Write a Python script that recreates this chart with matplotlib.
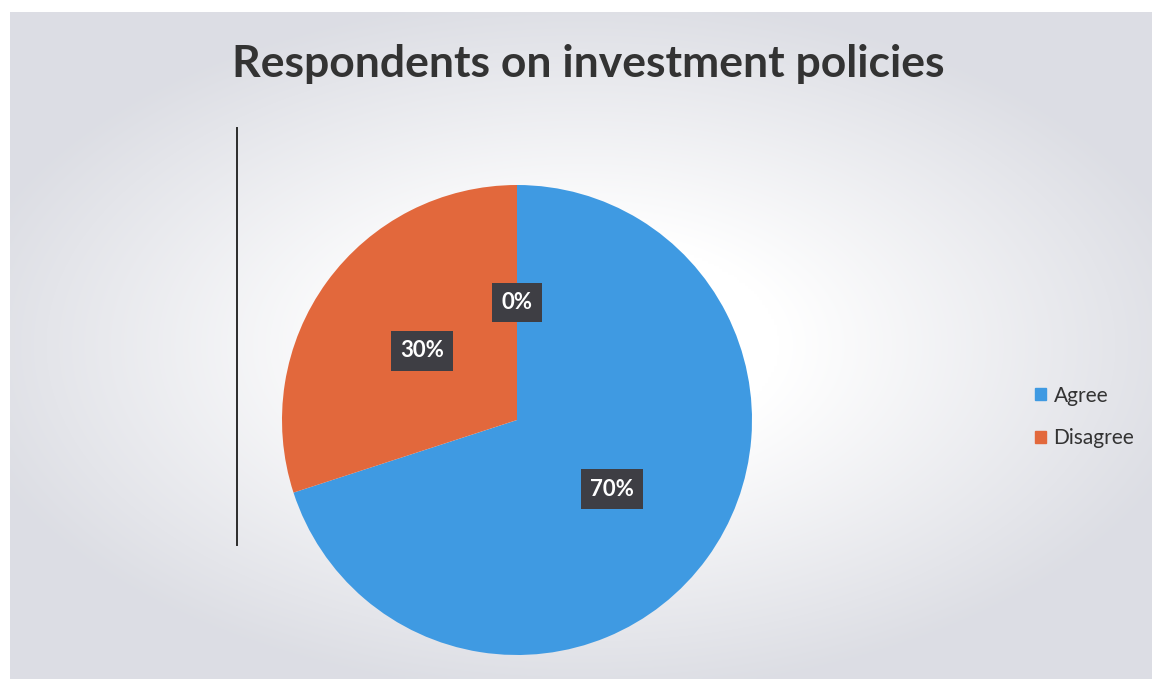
import matplotlib.pyplot as plt
import matplotlib.patches as mpatches
import numpy as np

# survey answers
categories = ["Agree", "Disagree", "Neutral"]
shares = [70, 30, 0]
colors = ["#3f9ae2", "#e2683c", "#a5a5a5"]
legend_items = ["Agree", "Disagree"]

title = "Respondents on investment policies"

plt.rcParams['font.family'] = ['Lato', 'DejaVu Sans']

fig = plt.figure(figsize=(11.52, 6.79), dpi=100)

# paper-like backdrop: light grey edges fading to white in the middle
bg = fig.add_axes([0, 0, 1, 1], zorder=-10)
gx, gy = np.meshgrid(np.linspace(-1, 1, 400), np.linspace(-1, 1, 240))
r = np.sqrt((gx / 1.0) ** 2 + (gy / 0.95) ** 2)
glow = np.clip((r - 0.35) / 0.75, 0, 1)
edge = np.array([0.865, 0.87, 0.895])
img = 1 - glow[..., None] * (1 - edge)
bg.imshow(img, extent=[10 / 1152, 1, 0, 1 - 12 / 679], aspect='auto',
          interpolation='bilinear')
bg.set_xlim(0, 1)
bg.set_ylim(0, 1)
bg.axis('off')

# divider line on the left
bg.plot([237 / 1152, 237 / 1152], [1 - 128 / 679, 1 - 545 / 679],
        color='#2b2b2b', lw=1.4)

fig.text(0.511, 1 - 64 / 679, title, ha='center', va='center',
         fontsize=32, fontweight='bold', color='#333333')

ax = fig.add_axes([282 / 1152, 24 / 679, 470 / 1152, 470 / 679])
wedges, _, autotexts = ax.pie(
    shares, colors=colors, startangle=90, counterclock=False,
    autopct='%1.0f%%', pctdistance=0.5,
    wedgeprops=dict(linewidth=0),
    textprops=dict(color='white', fontsize=16, fontweight='bold'))
for t in autotexts:
    t.set_bbox(dict(boxstyle='square,pad=0.42', facecolor='#3e3e44',
                    edgecolor='none'))
ax.set_xlim(-1, 1)
ax.set_ylim(-1, 1)
ax.set_aspect('equal')

handles = [mpatches.Patch(color=colors[categories.index(c)], label=c)
           for c in legend_items]
fig.legend(handles=handles, loc='center left',
           bbox_to_anchor=(1016 / 1152, 1 - 417 / 679), frameon=False,
           fontsize=15, handlelength=0.55, handleheight=0.55,
           handletextpad=0.35, labelspacing=1.1, labelcolor='#333333')

fig.savefig('out.png', dpi=100)
